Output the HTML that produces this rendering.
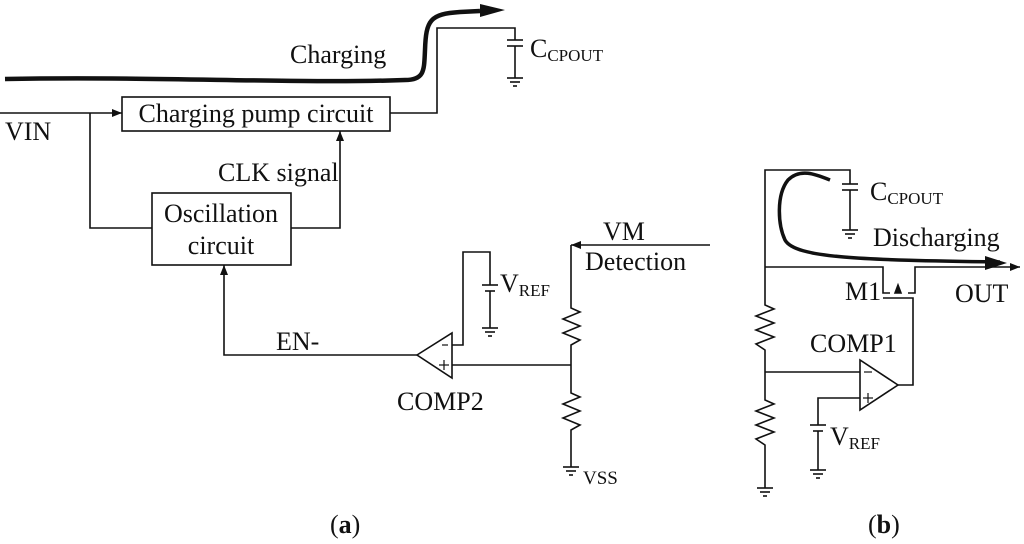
<!DOCTYPE html>
<html><head><meta charset="utf-8"><style>
html,body{margin:0;padding:0;background:#fff}
svg{display:block}
text{font-family:"Liberation Serif",serif;fill:#111}
</style></head><body>
<svg width="1024" height="544" viewBox="0 0 1024 544" xmlns="http://www.w3.org/2000/svg">
<defs>
<marker id="ar" markerWidth="10" markerHeight="8" refX="10" refY="4" orient="auto" markerUnits="userSpaceOnUse"><path d="M0,0 L10,4 L0,8z" fill="#111"/></marker>
</defs>
<g stroke="#111" stroke-width="1.6" fill="none">
<path d="M5,79 C150,76 300,84 405,80 C425,80 424,70 425,50 C426,20 430,14 460,12 L480,11" stroke-width="4.5"/>
<path d="M480,4 L505,10 L480,17z" fill="#111" stroke="none"/>
<line x1="0" y1="113" x2="122" y2="113" marker-end="url(#ar)"/>
<rect x="122" y="97" width="268" height="34"/>
<polyline points="90,113 90,228 152,228"/>
<rect x="152" y="193" width="139" height="72"/>
<polyline points="291,228 340,228 340,131" marker-end="url(#ar)"/>
<polyline points="390,113 437,113 437,28 515,28 515,40"/>
<line x1="507" y1="40" x2="523" y2="40"/><line x1="507" y1="46" x2="523" y2="46"/>
<polyline points="515,46 515,78"/>
<line x1="507" y1="78" x2="523" y2="78"/><line x1="510" y1="82" x2="520" y2="82"/><line x1="513" y1="86" x2="517" y2="86"/>
<polyline points="417,355 224,355 224,265" marker-end="url(#ar)"/>
<path d="M417,355 L452,333 L452,378z"/>
<polyline points="452,345 463,345 463,252 490,252 490,285"/>
<line x1="482" y1="285" x2="498" y2="285"/><line x1="485" y1="291" x2="495" y2="291"/>
<polyline points="490,291 490,328"/>
<line x1="482" y1="328" x2="498" y2="328"/><line x1="485" y1="332" x2="495" y2="332"/><line x1="488" y1="336" x2="492" y2="336"/>
<line x1="452" y1="365" x2="571" y2="365"/>
<line x1="710" y1="245" x2="571" y2="245" marker-end="url(#ar)"/>
<polyline points="571,245 571,308 580,312 563,319 580,326 563,333 580,340 571,345 571,393 580,397 563,404 580,411 563,418 580,425 571,430 571,467"/>
<line x1="563" y1="467" x2="579" y2="467"/><line x1="566" y1="471" x2="576" y2="471"/><line x1="569" y1="475" x2="573" y2="475"/>
<polyline points="850,184 850,170 765,170 765,305 774,309 756,316 774,323 756,330 774,337 756,344 765,350 765,400 774,404 756,411 774,418 756,425 774,432 756,439 765,445 765,488"/>
<line x1="757" y1="488" x2="773" y2="488"/><line x1="760" y1="492" x2="770" y2="492"/><line x1="763" y1="496" x2="767" y2="496"/>
<line x1="842" y1="184" x2="858" y2="184"/><line x1="842" y1="190" x2="858" y2="190"/>
<polyline points="850,190 850,230"/>
<line x1="842" y1="230" x2="858" y2="230"/><line x1="845" y1="234" x2="855" y2="234"/><line x1="848" y1="238" x2="852" y2="238"/>
<polyline points="765,267 883,267 883,293 890,293"/>
<polyline points="908,293 915,293 915,267 1020,267" marker-end="url(#ar)"/>
<polyline points="883,298 913,298 913,385 898,385"/>
<line x1="898" y1="287" x2="898" y2="293"/>
<path d="M895,293 L898,285 L901,293z" fill="#111"/>
<path d="M830,180 C815,174 800,168 788,180 C776,195 778,225 785,240 C795,258 860,260 1000,262" stroke-width="3.5"/>
<path d="M985,256 L1007,263 L985,270z" fill="#111" stroke="none"/>
<line x1="765" y1="372" x2="860" y2="372"/>
<path d="M898,385 L860,360 L860,410z"/>
<polyline points="860,398 818,398 818,425"/>
<line x1="810" y1="425" x2="826" y2="425"/><line x1="813" y1="431" x2="823" y2="431"/>
<polyline points="818,431 818,470"/>
<line x1="810" y1="470" x2="826" y2="470"/><line x1="813" y1="474" x2="823" y2="474"/><line x1="816" y1="478" x2="820" y2="478"/>
</g>
<g stroke="#111" stroke-width="1.2">
<line x1="442" y1="345" x2="448" y2="345"/>
<line x1="439" y1="365" x2="449" y2="365"/><line x1="444" y1="360" x2="444" y2="370"/>
<line x1="864" y1="372" x2="872" y2="372"/>
<line x1="863" y1="398" x2="873" y2="398"/><line x1="868" y1="393" x2="868" y2="403"/>
</g>
<g font-size="26">
<text x="290" y="63">Charging</text>
<text x="256" y="122" text-anchor="middle">Charging pump circuit</text>
<text x="5" y="140">VIN</text>
<text x="218" y="181">CLK signal</text>
<text x="221" y="222" text-anchor="middle">Oscillation</text>
<text x="221" y="254" text-anchor="middle">circuit</text>
<text x="530" y="57">C<tspan font-size="17" dy="4">CPOUT</tspan></text>
<text x="276" y="350">EN-</text>
<text x="397" y="410">COMP2</text>
<text x="500" y="292">V<tspan font-size="17" dy="4">REF</tspan></text>
<text x="603" y="240">VM</text>
<text x="585" y="270">Detection</text>
<text x="583" y="484" font-size="19">VSS</text>
<text x="870" y="200">C<tspan font-size="17" dy="4">CPOUT</tspan></text>
<text x="873" y="246">Discharging</text>
<text x="955" y="302">OUT</text>
<text x="845" y="300">M1</text>
<text x="810" y="352">COMP1</text>
<text x="830" y="445">V<tspan font-size="17" dy="4">REF</tspan></text>
<text x="330" y="533">(<tspan font-weight="bold">a</tspan>)</text>
<text x="868" y="533">(<tspan font-weight="bold">b</tspan>)</text>
</g>
</svg>
</body></html>
